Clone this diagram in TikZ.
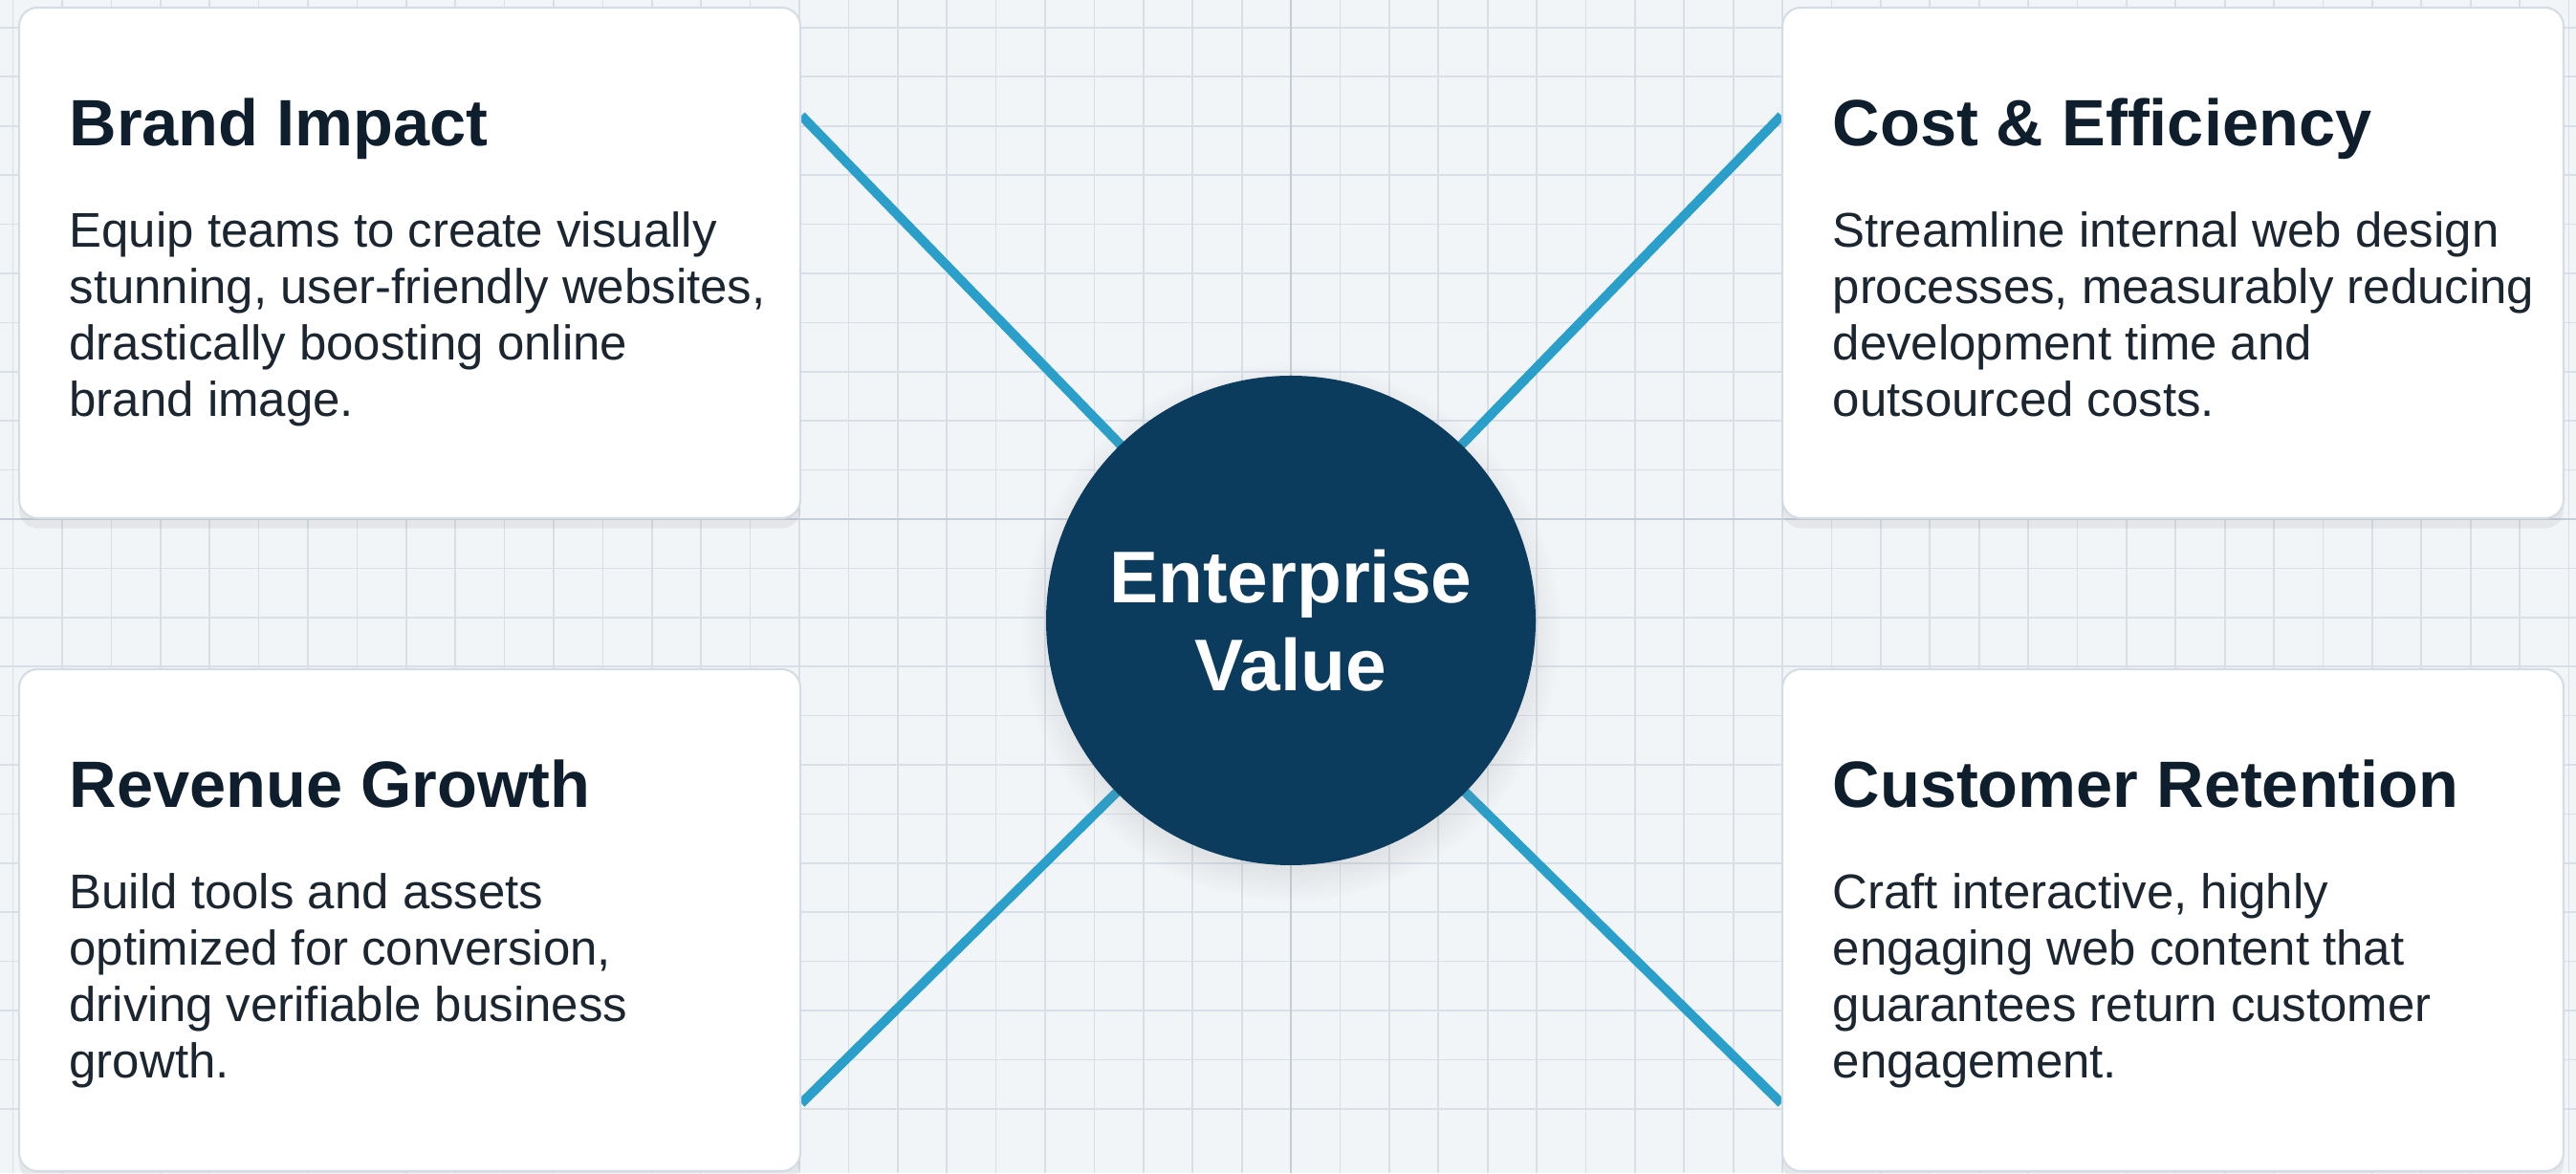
\documentclass[tikz,border=0pt]{standalone}
\usepackage{fontspec}
\setmainfont{Liberation Sans}
\usepackage{xcolor}
\usepackage{tikz}
\usetikzlibrary{shadows,backgrounds}

\definecolor{paper}{HTML}{F2F5F8}
\definecolor{gridgray}{HTML}{D8DFE7}
\definecolor{gridmajor}{HTML}{C5CED8}
\definecolor{cardline}{HTML}{D5DCE3}
\definecolor{ink}{HTML}{0E1E2C}
\definecolor{bodyink}{HTML}{1C2630}
\definecolor{hubblue}{HTML}{0B3C5D}
\definecolor{spokeblue}{HTML}{2A9FCA}

\begin{document}
\begin{tikzpicture}[
        card/.style={draw=cardline, line width=0.6pt, fill=white, rounded corners=5.5pt,
            minimum width=8.17cm, inner sep=0pt,
            drop shadow={opacity=0.12, shadow xshift=0pt, shadow yshift=-3pt}},
        head/.style={anchor=north west, inner sep=0pt, text=ink,
            font=\bfseries\fontsize{19.5}{23}\selectfont},
        blurb/.style={anchor=north west, inner sep=0pt, align=left, text=bodyink,
            font=\fontsize{14.5}{16.8}\selectfont},
        spoke/.style={line width=2.8pt, color=spokeblue}
    ]
        \useasboundingbox (0,0) rectangle (26.94,12.27);

        % Four cards
        \node[card, minimum height=5.34cm] (brand)     at (4.285,9.52) {};
        \node[card, minimum height=5.34cm] (cost)      at (22.725,9.52) {};
        \node[card, minimum height=5.25cm] (revenue)   at (4.285,2.645) {};
        \node[card, minimum height=5.25cm] (retention) at (22.725,2.645) {};

        \node[head] (brandT) at ([xshift=0.53cm, yshift=-0.95cm]brand.north west) {Brand Impact};
        \node[blurb] (brandB) at ([xshift=0.53cm, yshift=-2.14cm]brand.north west)
            {Equip teams to create visually\\stunning, user-friendly websites,\\drastically boosting online\\brand image.};

        \node[head] (costT) at ([xshift=0.53cm, yshift=-0.95cm]cost.north west) {Cost \& Efficiency};
        \node[blurb] (costB) at ([xshift=0.53cm, yshift=-2.14cm]cost.north west)
            {Streamline internal web design\\processes, measurably reducing\\development time and\\outsourced costs.};

        \node[head] (revenueT) at ([xshift=0.53cm, yshift=-0.95cm]revenue.north west) {Revenue Growth};
        \node[blurb] (revenueB) at ([xshift=0.53cm, yshift=-2.14cm]revenue.north west)
            {Build tools and assets\\optimized for conversion,\\driving verifiable business\\growth.};

        \node[head] (retentionT) at ([xshift=0.53cm, yshift=-0.95cm]retention.north west) {Customer Retention};
        \node[blurb] (retentionB) at ([xshift=0.53cm, yshift=-2.14cm]retention.north west)
            {Craft interactive, highly\\engaging web content that\\guarantees return customer\\engagement.};

        % Hub
        \node[circle, fill=hubblue, minimum size=5.12cm, text=white, align=center,
            font=\bfseries\fontsize{21.8}{26.2}\selectfont,
            circular drop shadow={opacity=0.18, shadow xshift=0pt, shadow yshift=-3pt}]
            (hub) at (13.5,5.78) {Enterprise\\Value};

        \begin{scope}[on background layer]
            % Draw grid paper
            \fill[paper] (0,0) rectangle (26.94,12.27);
            \clip (0,0) rectangle (26.94,12.27);
            \foreach \i in {-27,...,27}
                \draw[gridgray, line width=0.5pt] ({13.5+\i*0.514},0) -- ++(0,12.27);
            \foreach \j in {-12,...,12}
                \draw[gridgray, line width=0.5pt] (0,{6.84+\j*0.514}) -- ++(26.94,0);
            \draw[gridmajor, line width=0.8pt] (13.5,0) -- (13.5,12.27);
            \draw[gridmajor, line width=0.8pt] (0,6.84) -- (26.94,6.84);

            % Draw spokes
            \draw[spoke] (hub.center) -- ([yshift=-1.14cm]brand.north east);
            \draw[spoke] (hub.center) -- ([yshift=-1.14cm]cost.north west);
            \draw[spoke] (hub.center) -- ([yshift=0.72cm]revenue.south east);
            \draw[spoke] (hub.center) -- ([yshift=0.72cm]retention.south west);
        \end{scope}
    \end{tikzpicture}
\end{document}
